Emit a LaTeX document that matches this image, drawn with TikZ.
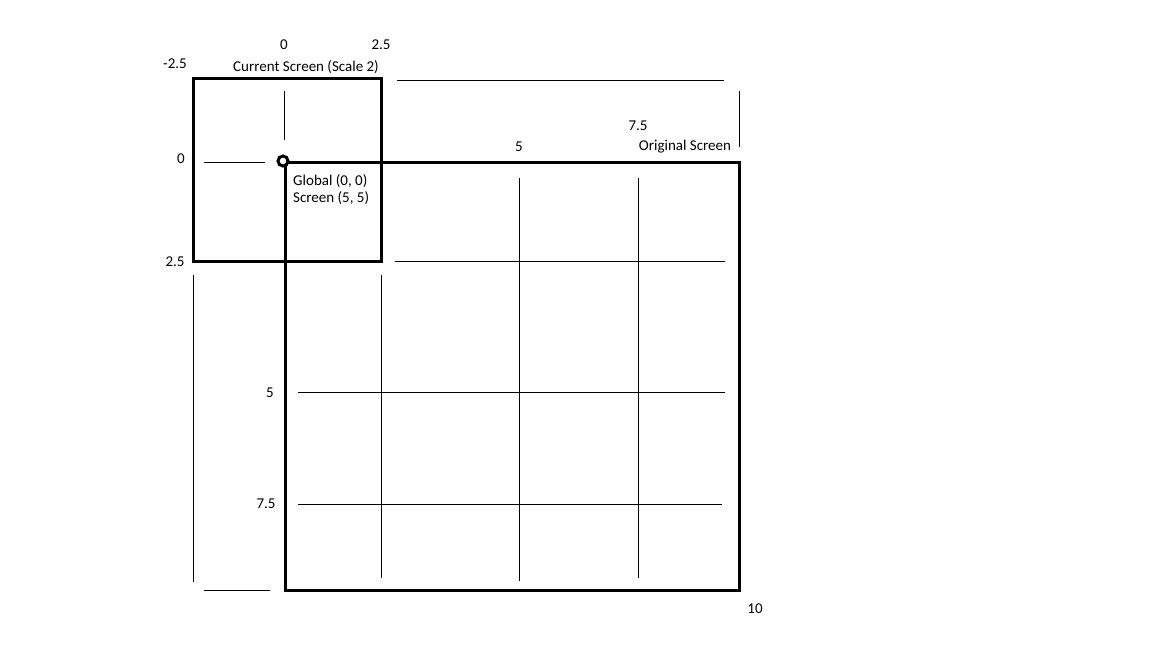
\documentclass[tikz,border=0pt]{standalone}
\usepackage{fontspec}
\setmainfont{Carlito}
\begin{document}
\begin{tikzpicture}[x=1pt,y=-1pt,
  thickbox/.style={line width=3pt},
  thinline/.style={line width=1pt},
  lbl/.style={inner sep=0pt,font=\fontsize{15}{17}\selectfont,text=black}]
\useasboundingbox[fill=white] (0,0) rectangle (1152,648);
% boxes
\draw[thickbox] (193,78) rectangle (381,261);
\draw[thickbox] (285,162) rectangle (739,590);
\draw[line width=3pt,fill=white] (283,161) circle (5);
% thin grid lines
\draw[thinline] (284,91) -- (284,140);
\draw[thinline] (204,162) -- (265,162);
\draw[thinline] (397,80) -- (724,80);
\draw[thinline] (739,91) -- (739,147);
\draw[thinline] (519,178) -- (519,581);
\draw[thinline] (638,178) -- (638,578);
\draw[thinline] (395,261) -- (725,261);
\draw[thinline] (381,275) -- (381,578);
\draw[thinline] (193,275) -- (193,582);
\draw[thinline] (298,392) -- (725,392);
\draw[thinline] (298,504) -- (722,504);
\draw[thinline] (204,590) -- (270,590);
% labels
\node[lbl] (t0) at (284,45) {0};
\node[lbl] (t25) at (381,45) {2.5};
\node[lbl] (tm25) at (175,64) {-2.5};
\node[lbl] (cur) at (306,67) {Current Screen (Scale 2)};
\node[lbl] (l0) at (181,159) {0};
\node[lbl,anchor=west] (glob) at (293,181) {Global (0, 0)};
\node[lbl,anchor=west] (scr) at (293,198) {Screen (5, 5)};
\node[lbl] (l25) at (175,262) {2.5};
\node[lbl] (t75) at (638,126) {7.5};
\node[lbl] (t5) at (519,147) {5};
\node[lbl] (orig) at (685,147) {Original Screen};
\node[lbl] (l5) at (270,393) {5};
\node[lbl] (l75) at (266,504) {7.5};
\node[lbl] (b10) at (755,609) {10};
\end{tikzpicture}
\end{document}
